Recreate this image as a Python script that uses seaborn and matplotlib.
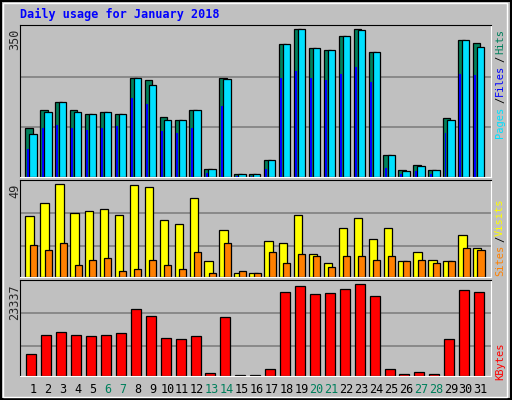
import matplotlib
matplotlib.use("Agg")
import matplotlib.pyplot as plt
import seaborn as sns

# Values
days = list(range(1, 32))
hits = [115, 158, 177, 158, 150, 153, 150, 234, 229, 143, 134, 158, 20, 234, 6, 6,
        41, 314, 350, 305, 300, 333, 350, 295, 51, 17, 29, 17, 139, 324, 317]
files = [103, 155, 177, 155, 150, 153, 150, 234, 217, 136, 134, 158, 20, 231, 6, 6,
         41, 314, 350, 305, 300, 333, 348, 295, 51, 15, 27, 17, 136, 324, 307]
pages = [67, 117, 124, 117, 112, 117, 120, 188, 172, 110, 105, 115, 10, 169, 3, 3,
         20, 234, 250, 234, 229, 243, 260, 224, 22, 8, 15, 8, 105, 243, 241]
visits = [32.5, 39.4, 49, 34, 35, 36, 33, 48.5, 47.4, 30.4, 28.2, 42, 8.5, 25, 2.1, 2.1,
          19.2, 18.1, 33, 12.2, 7.5, 26.1, 31.4, 20.2, 26.1, 8.5, 13.3, 9, 8.5, 22.4, 15.4]
sites = [17, 14.4, 18.1, 6.4, 9, 10.1, 3.2, 4.3, 9, 6.4, 4.3, 13.3, 2.1, 18.1, 3.2, 2.1,
         13.3, 7.5, 12.2, 11.2, 5.3, 11.2, 11.2, 9, 11.2, 8.5, 9, 7.5, 8.5, 15.4, 14.4]
kbytes = [5706, 10561, 11072, 10561, 10306, 10561, 10817, 16949, 15160, 9795, 9539, 10306,
          852, 14905, 341, 341, 1874, 21293, 22826, 20782, 21037, 22059, 23337, 20270,
          1874, 596, 1107, 596, 9539, 21804, 21293]
weekend = [6, 7, 13, 14, 20, 21, 27, 28]

GREEN, CYAN, BLUE = "#00805C", "#00E0FF", "#0000FF"
YELLOW, ORANGE, RED = "#FFFF00", "#FF8000", "#FF0000"
BG = "#C0C0C0"
MONO = "DejaVu Sans Mono"

sns.set_style("white")
plt.rcParams["font.family"] = [MONO, "DejaVu Sans"]

W, H = 512, 400
fig = plt.figure(figsize=(W / 100, H / 100), dpi=100, facecolor=BG)

# outer frame
fig.add_artist(plt.Rectangle((0.002, 0.002), 0.996, 0.996, transform=fig.transFigure,
                             fill=False, edgecolor="black", lw=1.5))
fig.add_artist(plt.Rectangle((0.006, 0.008), 0.985, 0.985, transform=fig.transFigure,
                             fill=False, edgecolor="white", lw=1))


def panel(top, bottom, ymax, grid):
    ax = fig.add_axes([20 / W, 1 - bottom / H, (491 - 20) / W, (bottom - top) / H])
    ax.set_facecolor(BG)
    ax.set_xlim(0.13, 31.69)
    ax.set_ylim(0, ymax)
    for g in grid:
        ax.axhline(g, color="#808080", lw=1.2, zorder=0)
    ax.set_xticks([])
    ax.set_yticks([])
    for s in ("left", "top"):
        ax.spines[s].set_color("black")
    for s in ("right", "bottom"):
        ax.spines[s].set_color("white")
    return ax


def bars(ax, vals, off, width, color):
    ax.bar([d + off for d in days], vals, width=width, color=color,
           edgecolor="black", linewidth=0.9, zorder=2)


ax1 = panel(25, 177, 360, [118, 238])
bars(ax1, hits, -0.27, 0.49, GREEN)
bars(ax1, files, 0.0, 0.49, CYAN)
ax1.bar([d - 0.36 for d in days], pages, width=0.13, color=BLUE, lw=0, zorder=3)

ax2 = panel(180, 277, 51.3, [16.2, 33.7])
bars(ax2, visits, -0.23, 0.56, YELLOW)
bars(ax2, sites, 0.02, 0.47, ORANGE)

ax3 = panel(280, 376, 24431, [7558, 15957])
bars(ax3, kbytes, -0.11, 0.67, RED)

# day labels
for d in days:
    ax3.text(d, -0.14, str(d), transform=ax3.get_xaxis_transform(), ha="center",
             va="center", fontsize=8.5, color=GREEN if d in weekend else "black")

fig.text(20 / W, 1 - 14 / H, "Daily usage for January 2018", color=BLUE,
         fontsize=8.5, fontweight="bold", va="center", ha="left")

# max labels
for y, txt in [(29, "350"), (184, "49"), (284, "23337")]:
    fig.text(15 / W, 1 - y / H, txt, rotation=90, ha="center", va="top", fontsize=8.5)


def side(pieces, ystart):
    y = ystart
    for txt, col in pieces:
        fig.text(500 / W, 1 - y / H, txt, rotation=90, ha="center", va="top",
                 fontsize=7.5, color=col)
        y += len(txt) * 5.6 + 4


side([("Hits", GREEN), ("/", "black"), ("Files", BLUE), ("/", "black"), ("Pages", CYAN)], 29)
side([("Visits", YELLOW), ("/", "black"), ("Sites", ORANGE)], 198)
side([("KBytes", RED)], 342)

fig.savefig("out.png", dpi=100, facecolor=BG)
